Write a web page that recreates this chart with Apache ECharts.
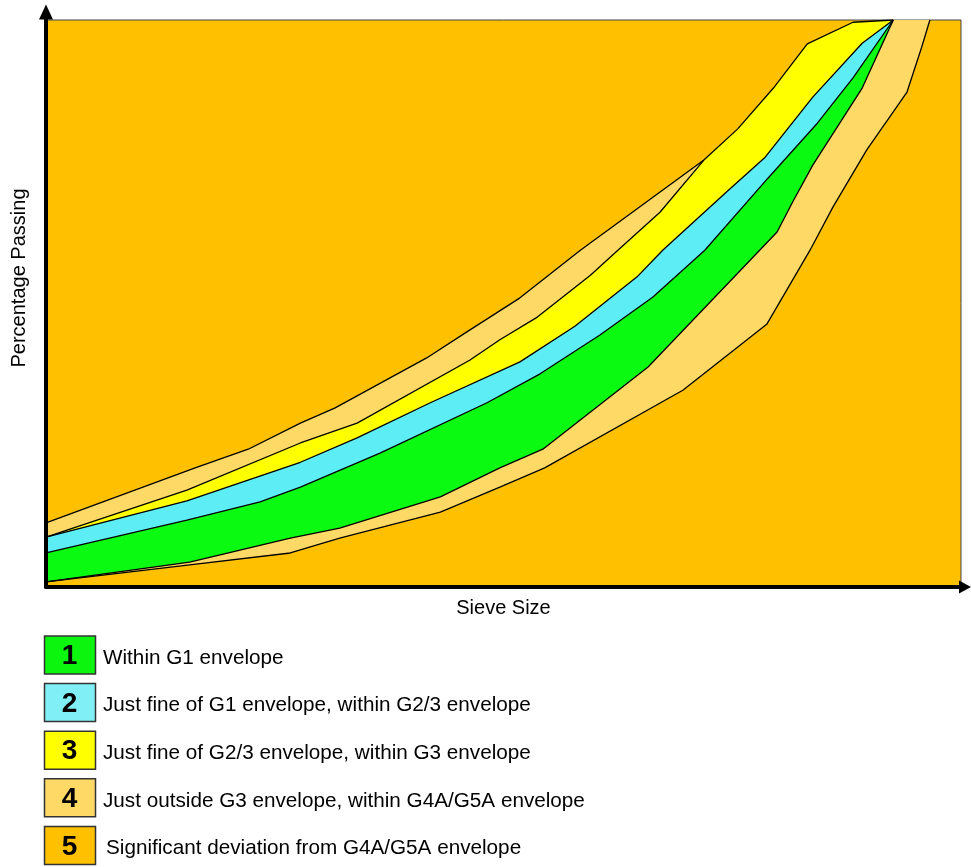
<!DOCTYPE html>
<html>
<head>
<meta charset="utf-8">
<script src="https://cdn.jsdelivr.net/npm/echarts@6/dist/echarts.min.js"></script>
<style>
  body { margin: 0; background: #fff; }
  #grading { width: 971px; height: 867px; }
</style>
</head>
<body>
<div id="grading"></div>
<script>
  // envelope boundaries, [sieve size, % passing] on a 0-100 scale
  const g4Fine = [[0, 11.3], [16.3, 21.0], [22.1, 24.3], [27.8, 28.9], [31.6, 31.6], [41.6, 40.4], [46.0, 45.0], [51.8, 51.0], [58.4, 59.4], [71.9, 75.3]];
  const g3Fine = [[0, 8.8], [15.4, 17.1], [27.8, 25.4], [34.0, 28.9], [46.3, 40.0], [49.6, 43.6], [53.7, 47.6], [59.5, 55.0], [62.5, 59.4], [67.1, 66.1], [71.9, 75.3], [75.6, 80.8], [79.5, 88.0], [83.2, 95.8], [88.2, 99.6], [92.6, 100]];
  const g23Fine = [[0, 8.8], [15.4, 15.2], [27.8, 22.0], [34.0, 26.3], [42.0, 32.5], [51.8, 39.7], [57.8, 46.0], [64.6, 54.7], [67.4, 59.4], [74.4, 69.7], [78.6, 75.8], [83.8, 86.4], [89.2, 95.9], [92.6, 100]];
  const g1Fine = [[0, 6.0], [15.4, 11.8], [23.4, 15.0], [27.8, 17.6], [36.5, 23.6], [48.2, 32.5], [54.0, 37.6], [60.5, 44.4], [66.3, 51.1], [72.0, 59.4], [78.9, 72.1], [84.3, 81.8], [88.2, 89.8], [92.6, 100]];
  const g1Coarse = [[0, 0.9], [15.7, 4.4], [26.7, 8.6], [32.1, 10.4], [43.1, 15.9], [49.6, 21.0], [54.3, 24.3], [65.8, 38.8], [79.9, 62.6], [81.6, 67.9], [83.8, 74.4], [89.2, 88.0], [92.6, 100]];
  const g4Coarse = [[0, 0.9], [15.7, 3.9], [26.7, 6.0], [32.1, 8.6], [43.1, 13.2], [49.6, 17.6], [54.5, 21.0], [69.6, 34.7], [78.8, 46.4], [83.5, 59.4], [86.0, 67.0], [89.7, 77.1], [94.1, 87.3], [95.7, 95.2], [96.6, 100]];

  const legendLabels = [
    'Within G1 envelope',
    'Just fine of G1 envelope, within G2/3 envelope',
    'Just fine of G2/3 envelope, within G3 envelope',
    'Just outside G3 envelope, within G4A/G5A envelope',
    'Significant deviation from G4A/G5A envelope',
  ];
  const legendColors = ['#0BF50F', '#80EFF6', '#FFFF00', '#FFD966', '#FFC000'];
  // pale, yellow, cyan, green
  const bandFill = ['#FFD966', '#FFFF00', '#5DEEF5', '#0BFA12'];

  const font = 'Liberation Sans, Arial, sans-serif';

  function bandPolygon(i) {
    if (i === 0) {
      // whole G4A/G5A envelope, the other bands are painted over it
      const lastX = g4Fine[g4Fine.length - 1][0];
      return g4Fine.concat(g3Fine.filter(p => p[0] > lastX), g4Coarse.slice().reverse());
    }
    const pairs = [[g3Fine, g23Fine], [g23Fine, g1Fine], [g1Fine, g1Coarse]];
    const top = pairs[i - 1][0];
    const bottom = pairs[i - 1][1];
    return top.concat(bottom.slice().reverse());
  }

  const boundaries = [g4Fine, g3Fine, g23Fine, g1Fine, g1Coarse, g4Coarse];

  const legendGraphics = [];
  legendLabels.forEach((label, i) => {
    const top = 636 + i * 47.6;
    legendGraphics.push(
      {
        type: 'rect',
        shape: { x: 44.5, y: top, width: 51, height: 38 },
        style: { fill: legendColors[i], stroke: '#333', lineWidth: 1.5 },
      },
      {
        type: 'text',
        x: 69.5,
        y: top + 20.5,
        style: { text: String(i + 1), font: 'bold 28px ' + font, align: 'center', verticalAlign: 'middle', fill: '#000' },
      },
      {
        type: 'text',
        x: i === 4 ? 106 : 103,
        y: top + 22,
        style: { text: label, font: '20.7px ' + font, verticalAlign: 'middle', fill: '#000' },
      },
    );
  });

  const myChart = echarts.init(document.getElementById('grading'));
  myChart.setOption({
    animation: false,
    grid: {
      left: 46,
      top: 20,
      width: 915,
      height: 567,
      show: true,
      backgroundColor: '#FFC000',
      borderColor: '#444',
      borderWidth: 1,
    },
    xAxis: {
      type: 'value',
      min: 0,
      max: 100,
      name: 'Sieve Size',
      nameLocation: 'middle',
      nameGap: 11,
      nameTextStyle: { fontSize: 20, color: '#000', fontFamily: font },
      axisLine: {
        show: true,
        symbol: ['none', 'triangle'],
        symbolSize: [13, 12],
        symbolOffset: [0, 4],
        lineStyle: { color: '#000', width: 4 },
      },
      axisTick: { show: false },
      axisLabel: { show: false },
      splitLine: { show: false },
      z: 10,
    },
    yAxis: {
      type: 'value',
      min: 0,
      max: 100,
      axisLine: {
        show: true,
        symbol: ['none', 'triangle'],
        symbolSize: [14, 15],
        symbolOffset: [0, 8],
        lineStyle: { color: '#000', width: 4 },
      },
      axisTick: { show: false },
      axisLabel: { show: false },
      splitLine: { show: false },
      z: 10,
    },
    graphic: [
      {
        type: 'text',
        x: 19,
        y: 278,
        rotation: Math.PI / 2,
        style: { text: 'Percentage Passing', font: '20px ' + font, align: 'center', verticalAlign: 'middle', fill: '#000' },
      },
    ].concat(legendGraphics),
    series: [
      {
        type: 'custom',
        coordinateSystem: 'cartesian2d',
        silent: true,
        clip: true,
        z: 2,
        data: [[0, 0], [1, 0], [2, 0], [3, 0]],
        renderItem(params, api) {
          const idx = api.value(0);
          return {
            type: 'polygon',
            shape: { points: bandPolygon(idx).map(p => api.coord(p)) },
            style: { fill: bandFill[idx] },
          };
        },
      },
    ].concat(boundaries.map(line => ({
      type: 'line',
      data: line,
      showSymbol: false,
      silent: true,
      z: 3,
      lineStyle: { color: '#000', width: 1.3 },
    }))),
  });
</script>
</body>
</html>
